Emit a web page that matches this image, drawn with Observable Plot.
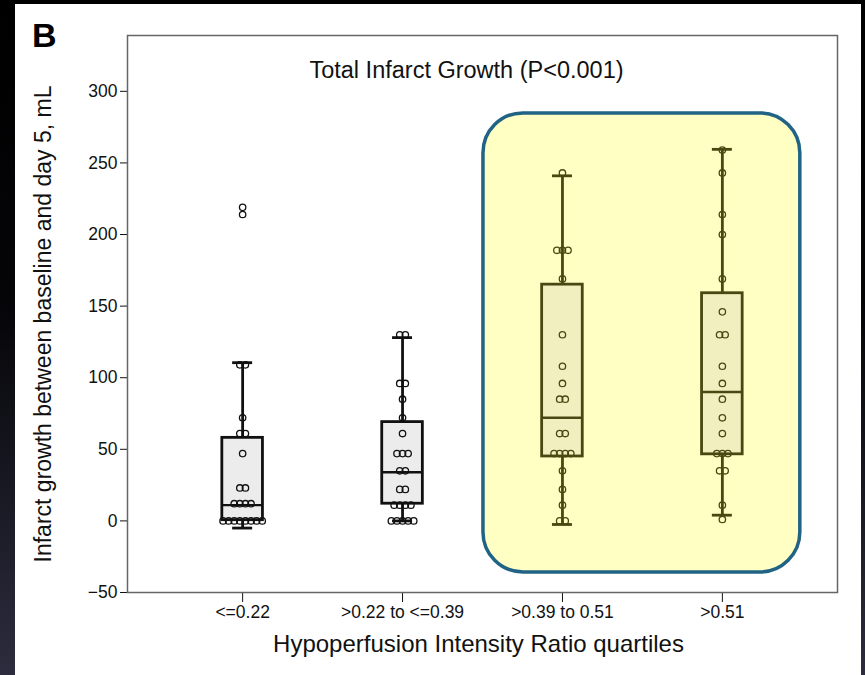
<!DOCTYPE html>
<html>
<head>
<meta charset="utf-8">
<script src="https://cdn.jsdelivr.net/npm/d3@7"></script>
<script src="https://cdn.jsdelivr.net/npm/@observablehq/plot@0.6"></script>
<style>
  html, body { margin: 0; padding: 0; }
  body {
    width: 865px; height: 675px; overflow: hidden; position: relative;
    background: linear-gradient(#000 0%, #050508 45%, #2c2c3e 100%);
    font-family: "Liberation Sans", Arial, sans-serif;
  }
  #panel { position: absolute; left: 15px; top: 4px; width: 846px; height: 671px; background: #fff; }
  #letter { position: absolute; left: 32px; top: 18px; font: bold 34px/1 "Liberation Sans", Arial, sans-serif; color: #000; }
  #chart { position: absolute; left: 0; top: 0; }
</style>
</head>
<body>
<div id="panel"></div>
<div id="letter">B</div>
<div id="chart"></div>
<script>
// ---- data ----
const groups = ["<=0.22", ">0.22 to <=0.39", ">0.39 to 0.51", ">0.51"];
const yTicks = [-50, 0, 50, 100, 150, 200, 250, 300];

const whiskerLow  = [-5, 0, -2.5, 4];
const q1          = [0.5, 12, 45, 46.5];
const median      = [11, 34, 72, 90];
const q3          = [58, 69, 165, 159];
const whiskerHigh = [110.5, 128, 241, 259.5];

const dotsG1 = [219, 214, 109, 109, 72, 61, 61, 47, 23, 23, 12, 12, 12, 12, 0, 0, 0, 0, 0, 0, 0, 0];
const dotsG2 = [130, 130, 96, 96, 85, 72, 61, 47, 47, 47, 35, 35, 22, 22, 11, 11, 11, 11, 0, 0, 0, 0, 0];
const dotsG3 = [243, 189, 189, 189, 169, 130, 108, 96, 85, 85, 61, 61, 47, 47, 47, 47, 35, 22, 11, 0, 0];
const dotsG4 = [259, 243, 214, 200, 169, 146, 130, 130, 108, 96, 85, 72, 61, 47, 47, 47, 35, 35, 11, 1];

const highlightGroups = [2, 3]; // highlighted quartiles
const title = "Total Infarct Growth (P<0.001)";
const xLabel = "Hypoperfusion Intensity Ratio quartiles";
const yLabel = "Infarct growth between baseline and day 5, mL";

// ---- styles ----
const boxHalf = 0.127, capHalf = 0.0625, dotSpacing = 0.035;
const grayFill = "#ececec", grayStroke = "#111111";
const yelFill = "#f1efbf", yelStroke = "#4a4812";
const isHL = i => highlightGroups.includes(i);

// ---- build tables ----
const boxes = groups.map((g, i) => ({
  i, lo: whiskerLow[i], q1: q1[i], med: median[i], q3: q3[i], hi: whiskerHigh[i]
}));

const dots = [];
[dotsG1, dotsG2, dotsG3, dotsG4].forEach((vals, i) => {
  const counts = d3.rollup(vals, v => v.length, v => v);
  const seen = new Map();
  for (const v of vals) {
    const k = counts.get(v);
    const j = seen.get(v) ?? 0;
    seen.set(v, j + 1);
    dots.push({ i, v, x: i + (j - (k - 1) / 2) * dotSpacing });
  }
});

const hl = [{
  x1: d3.min(highlightGroups) - 0.494, x2: d3.max(highlightGroups) + 0.4875,
  y1: -36, y2: 284.6
}];

const strokeOf = d => isHL(d.i) ? yelStroke : grayStroke;

const chart = Plot.plot({
  width: 865,
  height: 675,
  marginLeft: 127,
  marginRight: 28,
  marginTop: 35,
  marginBottom: 83,
  style: { background: "transparent", fontFamily: "Liberation Sans, Arial, sans-serif", fontSize: "17.5px", color: "#111", overflow: "visible" },
  x: { domain: [-0.72, 3.72], ticks: [0, 1, 2, 3], tickFormat: i => groups[i], tickSize: 10, tickPadding: 3, label: null, line: true },
  y: { domain: [-50, 339], ticks: yTicks, tickSize: 7, tickPadding: 3, label: null, line: true },
  marks: [
    Plot.rect(hl, { x1: "x1", x2: "x2", y1: "y1", y2: "y2", fill: "#ffffc4", stroke: "#216385", strokeWidth: 3.5, rx: 40 }),
    Plot.frame({ stroke: "#666", strokeWidth: 1.5 }),
    Plot.ruleX(boxes, { x: "i", y1: "lo", y2: "hi", stroke: strokeOf, strokeWidth: 2.8 }),
    Plot.ruleY(boxes, { y: "lo", x1: d => d.i - capHalf, x2: d => d.i + capHalf, stroke: strokeOf, strokeWidth: 2.8 }),
    Plot.ruleY(boxes, { y: "hi", x1: d => d.i - capHalf, x2: d => d.i + capHalf, stroke: strokeOf, strokeWidth: 2.8 }),
    Plot.rect(boxes, { x1: d => d.i - boxHalf, x2: d => d.i + boxHalf, y1: "q1", y2: "q3",
      fill: d => isHL(d.i) ? yelFill : grayFill, stroke: strokeOf, strokeWidth: 2.8 }),
    Plot.ruleY(boxes, { y: "med", x1: d => d.i - boxHalf, x2: d => d.i + boxHalf, stroke: strokeOf, strokeWidth: 2.4 }),
    Plot.dot(dots, { x: "x", y: "v", r: 3.2, fill: "none", stroke: strokeOf, strokeWidth: 1.3 }),
    Plot.text([title], { frameAnchor: "top", dy: 26, dx: -16, fontSize: 23.5, fill: "#111" }),
    Plot.text([xLabel], { frameAnchor: "bottom", dy: 59, dx: -4, fontSize: 24, fill: "#111" }),
    Plot.text([yLabel], { frameAnchor: "left", textAnchor: "middle", dx: -84, dy: 10, rotate: -90, fontSize: 23, fill: "#111" })
  ]
});

document.getElementById("chart").appendChild(chart);
</script>
</body>
</html>
